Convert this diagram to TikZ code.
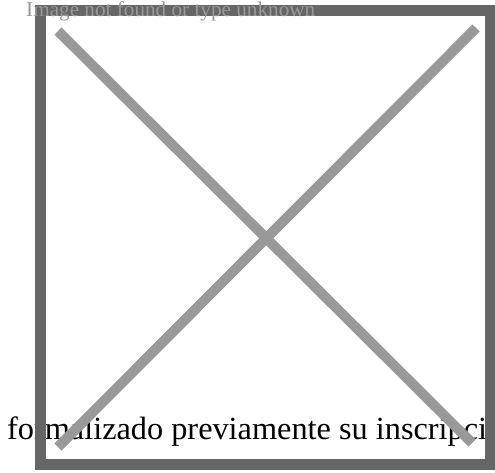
\documentclass[tikz,border=0pt]{standalone}
\usepackage{fontspec}
\setmainfont{Liberation Serif}
\usepackage{tikz}
\usetikzlibrary{positioning}

\definecolor{framegray}{HTML}{666666}
\definecolor{crossgray}{HTML}{999999}

\begin{document}
\begin{tikzpicture}[x=1pt, y=-1pt,
      caption/.style = {inner sep=0pt, anchor=base west, font=\fontsize{32.3}{38}\selectfont},
      notice/.style = {inner sep=0pt, anchor=base west, text=crossgray, font=\fontsize{21.2}{25}\selectfont},
      frame/.style = {draw=framegray, line width=11pt},
      cross/.style = {draw=crossgray, line width=10pt, line cap=butt}]
    \useasboundingbox (0,0) rectangle (495,472);
    \clip (0,0) rectangle (495,472);
    % text under the broken picture
    \node [caption] (caption) at (7,439) {formalizado previamente su inscripción};
    % the placeholder box
    \draw [frame] (40.5,10.5) rectangle (490.5,464.5);
    \coordinate (tl) at (58,31);
    \coordinate (br) at (472,443);
    \coordinate (tr) at (476,28);
    \coordinate (bl) at (58,447);
    \draw [cross] (tl) -- (br);
    \draw [cross] (tr) -- (bl);
    \node [notice] (notice) at (26,16.5) {Image not found or type unknown};
\end{tikzpicture}
\end{document}
